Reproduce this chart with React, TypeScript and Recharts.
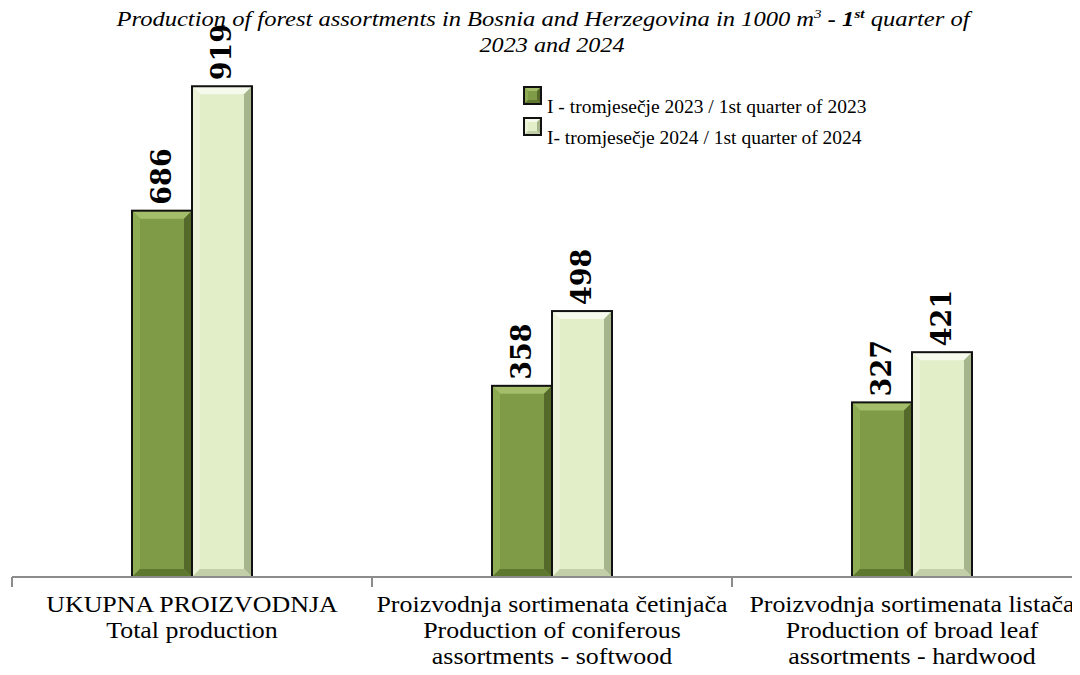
import React from 'react'
import { BarChart, Bar, XAxis, YAxis, LabelList } from 'recharts'

const categories = [
  ['UKUPNA PROIZVODNJA', 'Total production'],
  ['Proizvodnja sortimenata četinjača', 'Production of coniferous', 'assortments - softwood'],
  ['Proizvodnja sortimenata listača', 'Production of broad leaf', 'assortments - hardwood'],
]
const quarter2023 = [686, 358, 327]
const quarter2024 = [919, 498, 421]
const seriesNames = ['I - tromjesečje 2023 / 1st quarter of 2023', 'I- tromjesečje 2024 / 1st quarter of 2024']

const chartData = categories.map((lines, i) => ({
  key: 'c' + i,
  lines,
  q2023: quarter2023[i],
  q2024: quarter2024[i],
}))

const DARK = { face: '#7f9b47', top: '#a3bd6a', left: '#8dab52', right: '#55692a', bottom: '#5f7830' }
const LIGHT = { face: '#e1eec8', top: '#f5faec', left: '#eaf3d8', right: '#a7b58c', bottom: '#c2cfa8' }

const SERIF = '"Liberation Serif", "DejaVu Serif", serif'

// bar with a bevelled edge, like the excel "bevel" effect
const bevelShape = (pal: typeof DARK, edge = 8) => (props: any) => {
  const { x, y, width: w, height: h } = props
  if (!w || !h) return null
  const b = Math.min(edge, w / 4, h / 4)
  return (
    <g>
      <rect x={x} y={y} width={w} height={h} fill={pal.face} />
      <polygon points={`${x},${y} ${x + w},${y} ${x + w - b},${y + b} ${x + b},${y + b}`} fill={pal.top} />
      <polygon points={`${x},${y} ${x + b},${y + b} ${x + b},${y + h - b} ${x},${y + h}`} fill={pal.left} />
      <polygon points={`${x + w},${y} ${x + w},${y + h} ${x + w - b},${y + h - b} ${x + w - b},${y + b}`} fill={pal.right} />
      <polygon points={`${x},${y + h} ${x + w},${y + h} ${x + w - b},${y + h - b} ${x + b},${y + h - b}`} fill={pal.bottom} />
      <rect x={x} y={y} width={w} height={h} fill="none" stroke="#111" strokeWidth={2} />
    </g>
  )
}

const ValueLabel = (props: any) => {
  const { x, y, width, value } = props
  const cx = x + width / 2
  const cy = y - 6
  return (
    <text
      x={cx}
      y={cy}
      transform={`rotate(-90 ${cx} ${cy})`}
      textAnchor="start"
      dominantBaseline="central"
      fontFamily='"DejaVu Serif", serif'
      fontWeight="bold"
      fontSize={27}
      fill="#000"
    >
      {value}
    </text>
  )
}

const CategoryTick = (props: any) => {
  const { x, y, payload, index } = props
  const half = payload && payload.offset ? payload.offset : 180
  const lines: string[] = chartData[index] ? chartData[index].lines : []
  return (
    <g>
      <line x1={x - half} x2={x - half} y1={y} y2={y + 10} stroke="#8c8c8c" strokeWidth={2} />
      <g transform={`translate(${x} 0) scale(1.08 1) translate(${-x} 0)`}>
        {lines.map((line, i) => (
          <text key={i} x={x} y={y + 35 + i * 26} textAnchor="middle" fontFamily={SERIF} fontSize={24} fill="#000">
            {line}
          </text>
        ))}
      </g>
    </g>
  )
}

export default function App() {
  return (
    <div style={{ position: 'relative', width: 1080, height: 675, margin: -8, overflow: 'hidden', background: '#fff' }}>
      <BarChart
        width={1100}
        height={675}
        data={chartData}
        margin={{ top: 43, right: 8, left: 12, bottom: 68 }}
        barSize={60}
        barGap={0}
      >
        <XAxis
          dataKey="key"
          height={30}
          stroke="#8c8c8c"
          strokeWidth={2}
          tickLine={false}
          tickSize={0}
          tickMargin={0}
          interval={0}
          tick={<CategoryTick />}
        />
        <YAxis hide domain={[0, 1000]} />
        <Bar dataKey="q2023" name={seriesNames[0]} shape={bevelShape(DARK)} isAnimationActive={false}>
          <LabelList dataKey="q2023" content={<ValueLabel />} />
        </Bar>
        <Bar dataKey="q2024" name={seriesNames[1]} shape={bevelShape(LIGHT)} isAnimationActive={false}>
          <LabelList dataKey="q2024" content={<ValueLabel />} />
        </Bar>
      </BarChart>

      <svg width={1080} height={160} style={{ position: 'absolute', left: 0, top: 0, pointerEvents: 'none' }}>
        <text
          x={543}
          y={26}
          textAnchor="middle"
          textLength={853}
          lengthAdjust="spacingAndGlyphs"
          fontFamily={SERIF}
          fontStyle="italic"
          fontSize={21}
        >
          Production of forest assortments in Bosnia and Herzegovina in 1000 m
          <tspan fontSize={13} dy={-8}>3</tspan>
          <tspan dy={8} fontWeight="bold"> - 1</tspan>
          <tspan fontWeight="bold" fontSize={13} dy={-8}>st</tspan>
          <tspan dy={8}> quarter of</tspan>
        </text>
        <text
          x={552}
          y={52}
          textAnchor="middle"
          textLength={145}
          lengthAdjust="spacingAndGlyphs"
          fontFamily={SERIF}
          fontStyle="italic"
          fontSize={21}
        >
          2023 and 2024
        </text>

        {[DARK, LIGHT].map((pal, i) => (
          <g key={i}>
            {bevelShape(pal, 4)({ x: 524, y: 87 + i * 31, width: 17, height: 17 })}
            <text x={547} y={113 + i * 31} fontFamily={SERIF} fontSize={19.5} fill="#000">
              {seriesNames[i]}
            </text>
          </g>
        ))}
      </svg>
    </div>
  )
}
